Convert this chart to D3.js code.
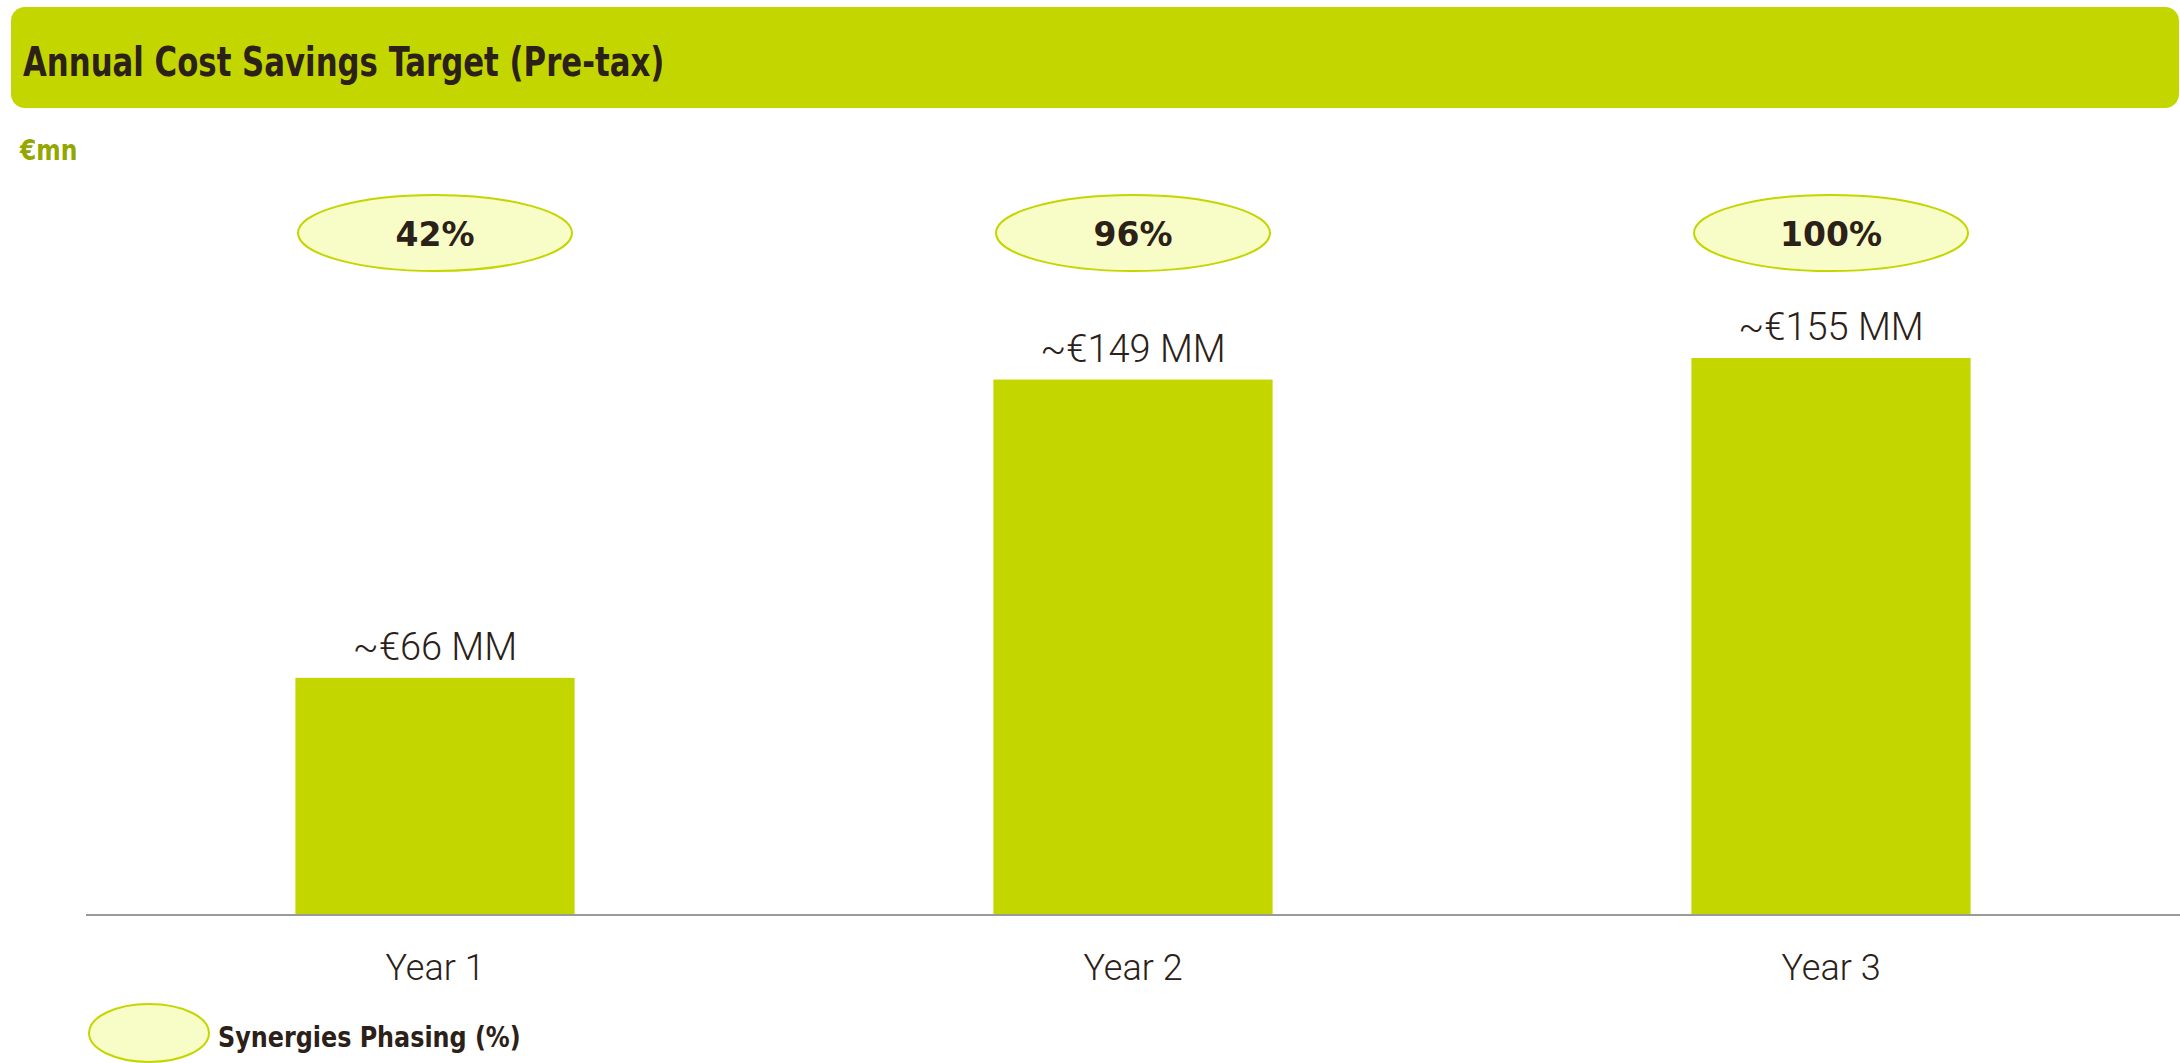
<!DOCTYPE html>
<html>
<head>
<meta charset="utf-8">
<script src="https://cdn.jsdelivr.net/npm/d3@7"></script>
<style>
  html, body { margin: 0; padding: 0; background: #fff; }
  svg { display: block; }
</style>
</head>
<body>
<div id="chart"></div>
<script>
// Chart data
const categories = ['Year 1', 'Year 2', 'Year 3'];
const savings = [66, 149, 155];          // €mn
const phasing = [42, 96, 100];           // synergies phasing %

const titleText = 'Annual Cost Savings Target (Pre-tax)';
const unitText = '€mn';
const legendText = 'Synergies Phasing (%)';

const green = '#C4D600';
const paleGreen = '#F8FCC6';
const ink = '#2B2118';
const boldFont = '"DejaVu Sans Condensed", "DejaVu Sans", sans-serif';
const lightFont = 'Roboto, "Liberation Sans", sans-serif';

// condensed bold text, squeezed horizontally to match the narrow original face
function narrowText(parent, x, y, size, squeeze, color, txt) {
  return parent.append('text')
    .attr('transform', `translate(${x},${y}) scale(${squeeze},1)`)
    .style('font-family', boldFont)
    .style('font-weight', '700')
    .style('font-size', size + 'px')
    .attr('fill', color)
    .text(txt);
}

function init() {
  const width = 2180;
  const height = 1063;

  const svg = d3.select('#chart').append('svg')
    .attr('width', width)
    .attr('height', height);

  // Header band
  svg.append('rect')
    .attr('x', 11).attr('y', 7)
    .attr('width', 2168).attr('height', 101)
    .attr('rx', 14)
    .attr('fill', green);

  narrowText(svg, 23, 76, 41, 0.835, ink, titleText);
  narrowText(svg, 20, 160, 29, 0.9, '#94A600', unitText);

  const baseY = 915;

  const x = d3.scaleBand()
    .domain(categories)
    .range([86, width])
    .paddingInner(0.6)
    .paddingOuter(0.3);

  const y = d3.scaleLinear()
    .domain([0, d3.max(savings)])
    .range([baseY, 358]);

  const rows = categories.map((c, i) => ({ cat: c, value: savings[i], pct: phasing[i] }));

  // Bars
  svg.selectAll('.bar')
    .data(rows)
    .join('rect')
    .attr('class', 'bar')
    .attr('x', d => x(d.cat))
    .attr('y', d => y(d.value))
    .attr('width', x.bandwidth())
    .attr('height', d => baseY - y(d.value))
    .attr('fill', green);

  // Baseline
  svg.append('line')
    .attr('x1', x.range()[0]).attr('x2', x.range()[1])
    .attr('y1', baseY).attr('y2', baseY)
    .attr('stroke', '#9a9a9a')
    .attr('stroke-width', 2);

  // Value labels
  svg.selectAll('.value')
    .data(rows)
    .join('text')
    .attr('class', 'value')
    .attr('x', d => x(d.cat) + x.bandwidth() / 2)
    .attr('y', d => y(d.value) - 18)
    .attr('text-anchor', 'middle')
    .style('font-family', lightFont)
    .style('font-weight', '300')
    .style('font-size', '38px')
    .attr('fill', ink)
    .text(d => `~€${d.value} MM`);

  // Category labels
  svg.selectAll('.cat')
    .data(rows)
    .join('text')
    .attr('class', 'cat')
    .attr('x', d => x(d.cat) + x.bandwidth() / 2)
    .attr('y', 980)
    .attr('text-anchor', 'middle')
    .style('font-family', lightFont)
    .style('font-weight', '300')
    .style('font-size', '36px')
    .attr('fill', ink)
    .text(d => d.cat);

  // Phasing ellipses
  const bubbles = svg.selectAll('.phase')
    .data(rows)
    .join('g')
    .attr('class', 'phase')
    .attr('transform', d => `translate(${x(d.cat) + x.bandwidth() / 2},233)`);

  bubbles.append('ellipse')
    .attr('rx', 137).attr('ry', 38)
    .attr('fill', paleGreen)
    .attr('stroke', green)
    .attr('stroke-width', 2);

  bubbles.append('text')
    .attr('y', 13)
    .attr('text-anchor', 'middle')
    .style('font-family', '"DejaVu Sans", sans-serif')
    .style('font-weight', '700')
    .style('font-size', '33px')
    .attr('fill', ink)
    .text(d => `${d.pct}%`);

  // Legend
  svg.append('ellipse')
    .attr('cx', 149).attr('cy', 1033)
    .attr('rx', 60).attr('ry', 29)
    .attr('fill', paleGreen)
    .attr('stroke', green)
    .attr('stroke-width', 2);

  narrowText(svg, 218, 1047, 29, 0.915, ink, legendText);
}

document.addEventListener('DOMContentLoaded', init);
</script>
</body>
</html>
